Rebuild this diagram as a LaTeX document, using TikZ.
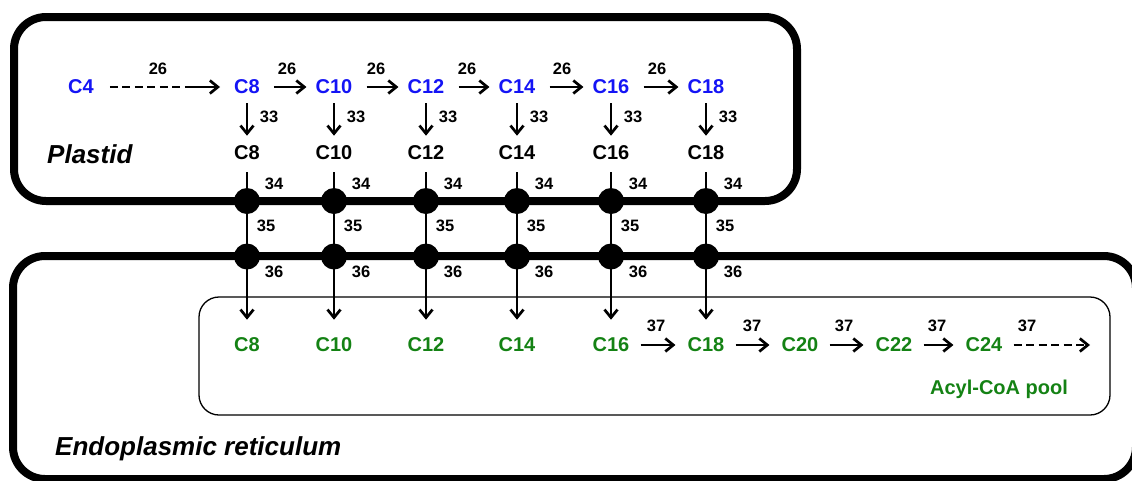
\documentclass[tikz,border=0pt]{standalone}
\usepackage{fontspec}
\setmainfont{Liberation Sans}
\usetikzlibrary{arrows.meta}
\definecolor{cblue}{RGB}{20,20,245}
\definecolor{cgreen}{RGB}{20,130,20}
\begin{document}
\begin{tikzpicture}[x=1pt,y=-1pt,
  bl/.style={font=\bfseries\fontsize{20}{24}\selectfont, text=cblue, inner sep=4pt},
  kl/.style={font=\bfseries\fontsize{20}{24}\selectfont, inner sep=4pt},
  gl/.style={font=\bfseries\fontsize{20}{24}\selectfont, text=cgreen, inner sep=4pt},
  num/.style={font=\bfseries\fontsize{16.5}{20}\selectfont, inner sep=0pt},
  dot/.style={circle, fill=black, minimum size=26pt, inner sep=0pt},
  arr/.style={line width=2.7pt, -{Straight Barb[length=8pt,width=13pt]}},
  membrane/.style={line width=8pt, rounded corners=32pt},
  pool/.style={line width=1.3pt, rounded corners=20pt},
  dsh/.style={dash pattern=on 8pt off 4.5pt},
  compart/.style={font=\bfseries\itshape\fontsize{26}{30}\selectfont, inner sep=0pt, anchor=base west}]
\useasboundingbox (0,0) rectangle (1132,480);
\begin{scope}
  \clip (0,0) rectangle (1132,480);
  \draw[membrane] (14,17) rectangle (797,201);
  \draw[membrane] (13,256) rectangle (1136,479);
\end{scope}
\draw[pool] (199,297) rectangle (1110,415);

\node[compart] (plastid) at (47,163) {Plastid};
\node[compart] (er) at (55,455) {Endoplasmic reticulum};
\node[gl, anchor=base, inner sep=0pt] (pool) at (999,394) {Acyl-CoA pool};

% blue row start
\node[bl] (c4) at (81,87) {C4};
\coordinate (d4) at (186,87);
\node[num] (n26-4) at (158,69) {26};

\foreach \n/\x in {8/247,10/334,12/426,14/517,16/611,18/706}{
  \node[bl] (b\n) at (\x,87) {C\n};
  \node[kl] (k\n) at (\x,153) {C\n};
  \node[gl] (g\n) at (\x,345) {C\n};
  \node[dot] (p\n) at (\x,201) {};
  \node[dot] (e\n) at (\x,256.5) {};
  \draw[arr, shorten <=5pt, shorten >=6pt] (b\n) -- (k\n);
  \draw[arr, shorten <=8pt, shorten >=14pt] (k\n.south) -- (p\n.center) -- (e\n.center) -- (g\n.north);
  \node[num] (n33-\n) at ({\x+22},117) {33};
  \node[num] (n34-\n) at ({\x+27},184) {34};
  \node[num] (n35-\n) at ({\x+19},226) {35};
  \node[num] (n36-\n) at ({\x+27},272) {36};
}
\foreach \n/\x in {20/800,22/894,24/984}{
  \node[gl] (g\n) at (\x,345) {C\n};
}
\coordinate (x24) at (1090,345);

% plastid elongation (26)
\draw[line width=2.7pt, dsh, shorten <=12pt] (c4) -- (d4);
\draw[arr, shorten >=10pt] (d4) -- (b8);
\foreach \a/\b/\lx in {8/10/287,10/12/376,12/14/467,14/16/562,16/18/657}{
  \draw[arr, shorten <=10pt, shorten >=5pt] (b\a) -- (b\b);
  \node[num] (n26-\a) at (\lx,69) {26};
}

% ER elongation (37)
\foreach \a/\b/\lx in {16/18/656,18/20/752,20/22/844,22/24/937}{
  \draw[arr, shorten <=7pt, shorten >=8pt] (g\a) -- (g\b);
  \node[num] (n37-\a) at (\lx,326) {37};
}
\draw[arr, dsh, shorten <=7pt] (g24) -- (x24);
\node[num] (n37-24) at (1027,326) {37};
\end{tikzpicture}
\end{document}
